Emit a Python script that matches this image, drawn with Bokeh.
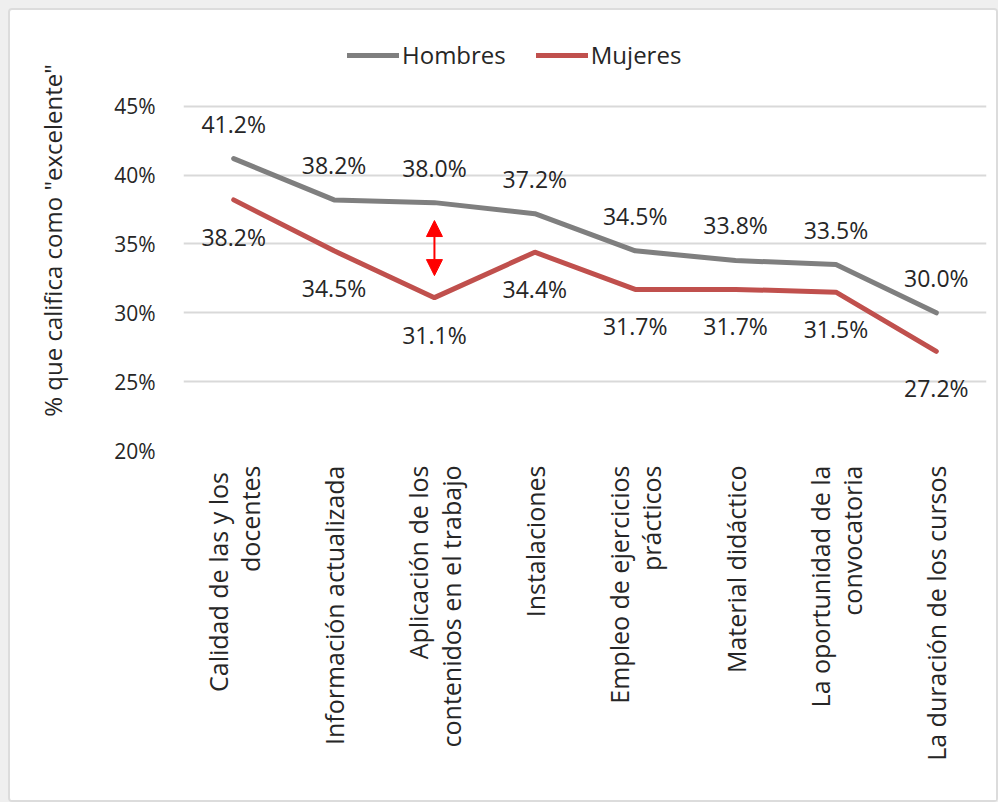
import math
from bokeh.plotting import figure
from bokeh.models import (FactorRange, FixedTicker, PrintfTickFormatter, Legend,
                          LegendItem, Arrow, NormalHead)
from bokeh.core.properties import value
from bokeh.embed import file_html
from bokeh.resources import INLINE
from bokeh.layouts import column

# ---------------- data ----------------
categories = [
    "Calidad de las  y los\ndocentes",
    "Información actualizada",
    "Aplicación de los\ncontenidos en el trabajo",
    "Instalaciones",
    "Empleo de ejercicios\nprácticos",
    "Material didáctico",
    "La oportunidad de la\nconvocatoria",
    "La duración de los cursos",
]
hombres = [41.2, 38.2, 38.0, 37.2, 34.5, 33.8, 33.5, 30.0]
mujeres = [38.2, 34.5, 31.1, 34.4, 31.7, 31.7, 31.5, 27.2]
y_ticks = [20, 25, 30, 35, 40, 45]
y_label = '% que califica como "excelente"'
series_names = ["Hombres", "Mujeres"]
arrow_category = categories[2]
arrow_low, arrow_high = 32.7, 36.7

# ---------------- style ----------------
FONT = "Open Sans"
GRAY = "#7f7f7f"
RED = "#c0504d"
TEXT = "#262626"

p = figure(
    x_range=FactorRange(*categories), y_range=(20, 50.5),
    frame_width=803, frame_height=420,
    min_border_left=173, min_border_top=20, min_border_right=10, min_border_bottom=350,
    output_backend="svg", toolbar_location=None,
    background_fill_color="white", border_fill_color="white",
)
p.outline_line_color = None
p.xgrid.grid_line_color = None
p.ygrid.grid_line_color = "#d9d9d9"
p.ygrid.grid_line_width = 2

p.yaxis.ticker = FixedTicker(ticks=y_ticks)
p.yaxis.formatter = PrintfTickFormatter(format="%d%%")
for ax in (p.xaxis, p.yaxis):
    ax.axis_line_color = None
    ax.major_tick_line_color = None
    ax.minor_tick_line_color = None
    ax.major_label_text_font = FONT
    ax.major_label_text_color = TEXT
p.yaxis.major_label_text_font_size = "21px"
p.yaxis.major_label_standoff = 22
p.yaxis.axis_label = y_label
p.yaxis.axis_label_text_font = FONT
p.yaxis.axis_label_text_font_size = "24px"
p.yaxis.axis_label_text_font_style = "normal"
p.yaxis.axis_label_text_color = TEXT
p.yaxis.axis_label_standoff = 42

p.xaxis.major_label_orientation = math.pi / 2
p.xaxis.major_label_text_font_size = "25px"
p.xaxis.major_label_text_line_height = 0.95
p.xaxis.major_label_standoff = 9

r_h = p.line(categories, hombres, line_color=GRAY, line_width=5, line_cap="round")
r_m = p.line(categories, mujeres, line_color=RED, line_width=5, line_cap="round")

p.text(categories, hombres, text=[f"{v:.1f}%" for v in hombres], y_offset=-35,
       text_align="center", text_baseline="middle", text_font=value(FONT),
       text_font_size="23px", text_color=TEXT)
p.text(categories, mujeres, text=[f"{v:.1f}%" for v in mujeres], y_offset=37,
       text_align="center", text_baseline="middle", text_font=value(FONT),
       text_font_size="23px", text_color=TEXT)

ax_x = categories.index(arrow_category) + 0.5
p.add_layout(Arrow(
    start=NormalHead(size=16, fill_color="red", line_color="red"),
    end=NormalHead(size=16, fill_color="red", line_color="red"),
    x_start=ax_x, y_start=arrow_low, x_end=ax_x, y_end=arrow_high,
    line_color="red", line_width=2))

legend = Legend(items=[LegendItem(label=series_names[0], renderers=[r_h]),
                       LegendItem(label=series_names[1], renderers=[r_m])],
                orientation="horizontal", location=(164, 379))
legend.border_line_color = None
legend.background_fill_alpha = 0
legend.glyph_width = 52
legend.glyph_height = 20
legend.label_standoff = 3
legend.spacing = 30
legend.padding = 6
legend.margin = 0
legend.label_text_font = FONT
legend.label_text_font_size = "24px"
legend.label_text_color = TEXT
p.add_layout(legend)

inner = column(p, styles={"border": "2px solid #dcdcdc", "border-radius": "4px",
                          "background-color": "white"})
layout = column(inner, styles={"background-color": "#efefef", "padding": "8px 0 0 8px"})

open("out.html", "w").write(file_html(layout, INLINE))
